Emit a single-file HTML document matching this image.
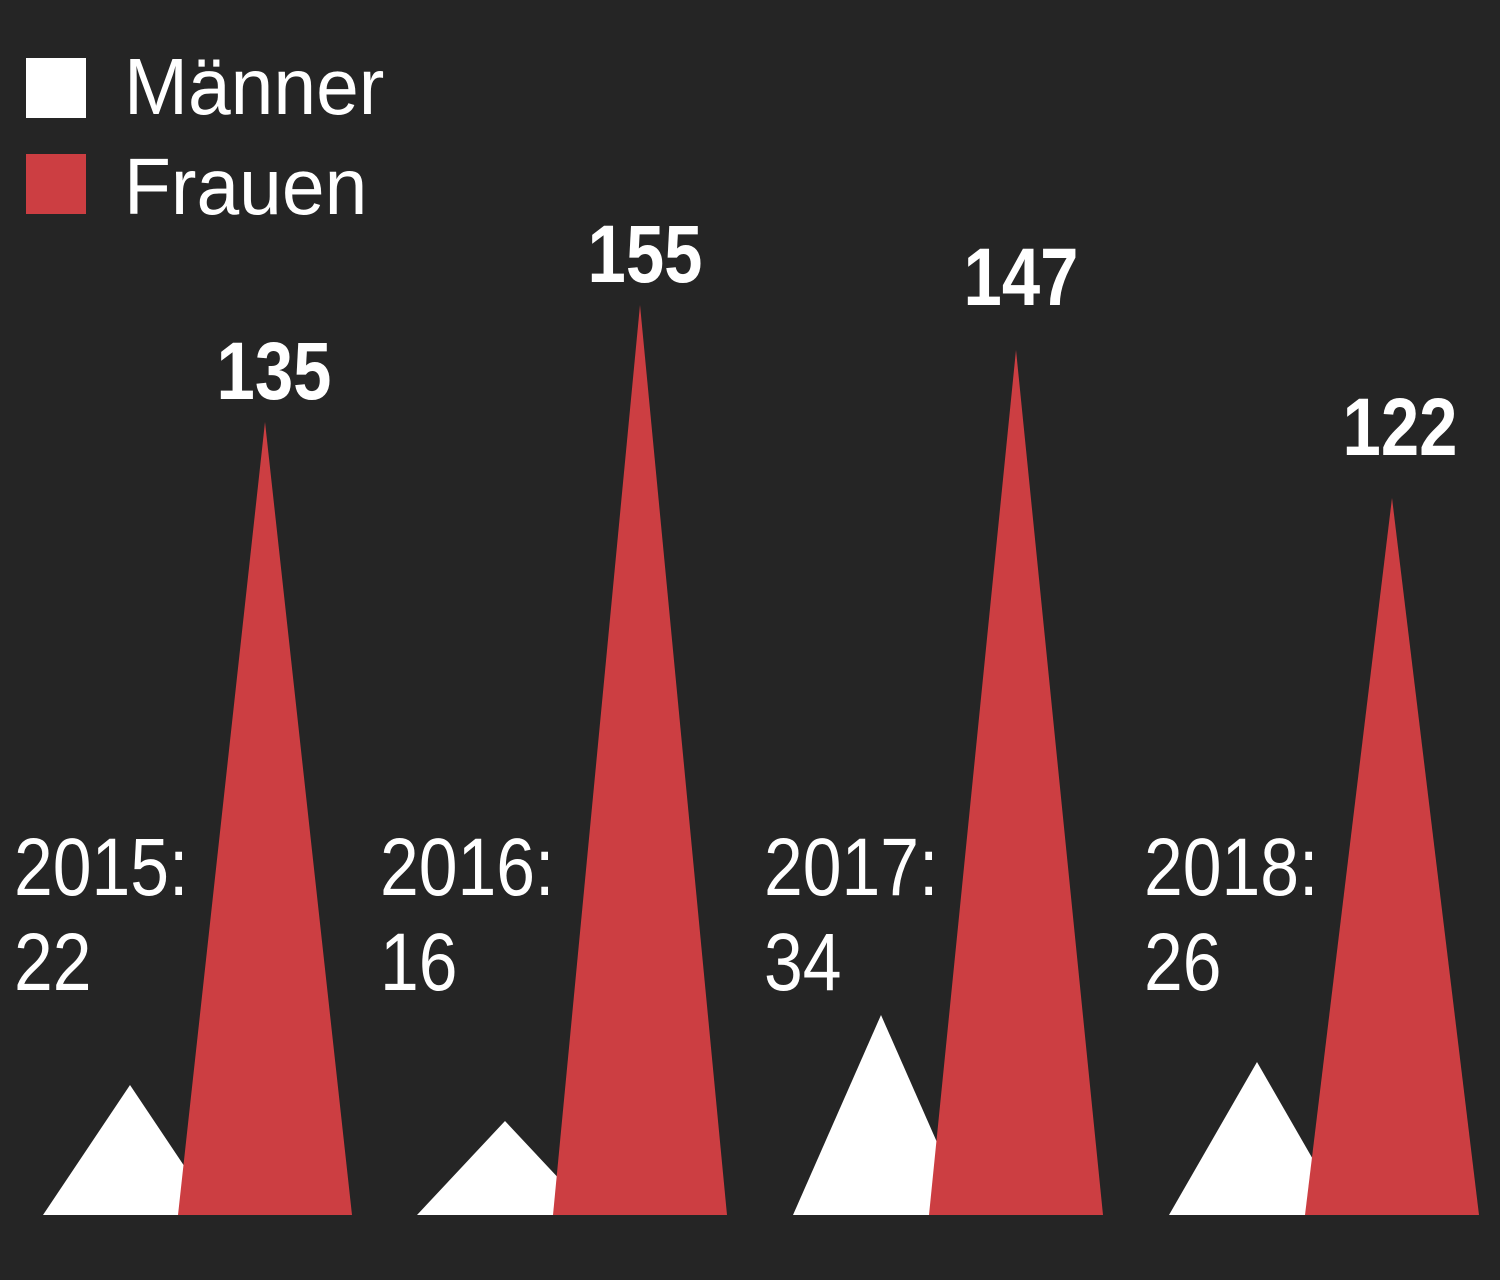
<!DOCTYPE html>
<html><head><meta charset="utf-8"><style>
html,body{margin:0;padding:0;background:#252525;}
svg{display:block}
text{font-family:"Liberation Sans",sans-serif;fill:#fff}
</style></head><body>
<svg width="1500" height="1280" viewBox="0 0 1500 1280" xmlns="http://www.w3.org/2000/svg">
<rect width="1500" height="1280" fill="#252525"/>
<rect x="26" y="58" width="60" height="60" fill="#fff"/>
<rect x="26" y="154" width="60" height="60" fill="#cc3e42"/>
<text font-size="80" transform="translate(124 114) scale(0.96 1)">Männer</text>
<text font-size="80" transform="translate(124 214) scale(0.96 1)">Frauen</text>

<g fill="#fff">
<polygon points="43,1215 130,1085 217,1215"/>
<polygon points="417,1215 505,1121 593,1215"/>
<polygon points="793,1215 881,1015 969,1215"/>
<polygon points="1169,1215 1257,1062 1345,1215"/>
</g>
<g fill="#cc3e42">
<polygon points="178,1215 265,422 352,1215"/>
<polygon points="553,1215 640,305 727,1215"/>
<polygon points="929,1215 1016,350 1103,1215"/>
<polygon points="1305,1215 1392,498 1479,1215"/>
</g>

<g font-size="82" font-weight="bold" text-anchor="middle">
<text transform="translate(274 399) scale(0.84 1)">135</text>
<text transform="translate(645 282) scale(0.84 1)">155</text>
<text transform="translate(1021 305) scale(0.84 1)">147</text>
<text transform="translate(1400 455) scale(0.84 1)">122</text>
</g>

<g font-size="82">
<text transform="translate(14 895) scale(0.85 1)">2015:</text>
<text transform="translate(14 990) scale(0.85 1)">22</text>
<text transform="translate(380 895) scale(0.85 1)">2016:</text>
<text transform="translate(380 990) scale(0.85 1)">16</text>
<text transform="translate(764 895) scale(0.85 1)">2017:</text>
<text transform="translate(764 990) scale(0.85 1)">34</text>
<text transform="translate(1144 895) scale(0.85 1)">2018:</text>
<text transform="translate(1144 990) scale(0.85 1)">26</text>
</g>
</svg>
</body></html>
